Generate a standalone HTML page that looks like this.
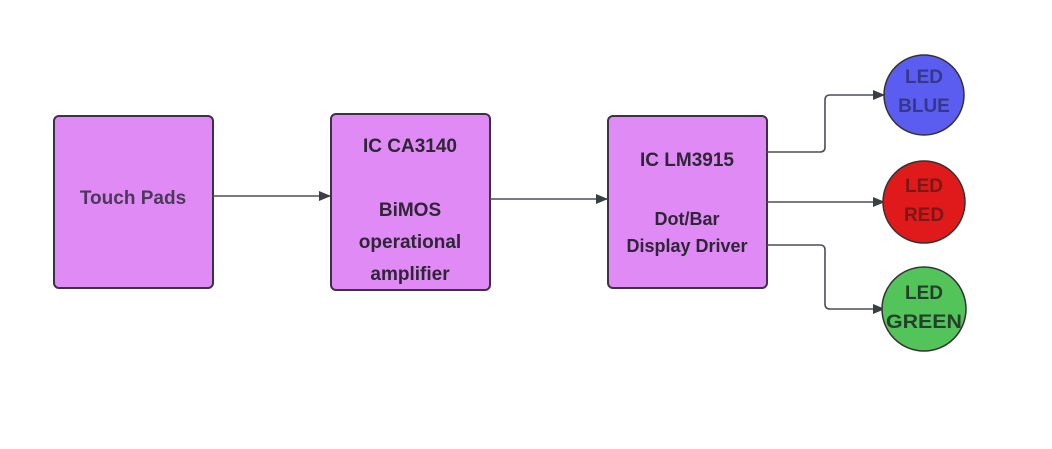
<!DOCTYPE html>
<html><head><style>
body{margin:0;background:#fff;}
svg text{font-family:"Liberation Sans",sans-serif;font-weight:bold;}
</style></head><body>
<svg width="1052" height="444" viewBox="0 0 1052 444" xmlns="http://www.w3.org/2000/svg">
<defs><marker id="a" markerWidth="12" markerHeight="12" refX="11" refY="6" orient="auto" markerUnits="userSpaceOnUse"><path d="M0,1 L12,6 L0,11 z" fill="#3a3f46"/></marker></defs>
<g fill="#e08af5" stroke="#3d3146" stroke-width="2">
<rect x="54" y="116" width="159" height="172" rx="5"/>
<rect x="331" y="114" width="159" height="176" rx="5"/>
<rect x="608" y="116" width="159" height="172" rx="5"/>
</g>
<g stroke="#4a4f56" stroke-width="1.6" fill="none" marker-end="url(#a)">
<path d="M213 196 H330"/>
<path d="M490 199 H607"/>
<path d="M767 152 H820 Q825 152 825 147 V100 Q825 95 830 95 H884"/>
<path d="M767 202 H884"/>
<path d="M767 245 H820 Q825 245 825 250 V304 Q825 309 830 309 H884"/>
</g>
<circle cx="924" cy="95" r="40" fill="#5b5cf0" stroke="#333" stroke-width="1.5"/>
<circle cx="924" cy="202" r="41" fill="#e01a1a" stroke="#333" stroke-width="1.5"/>
<circle cx="924" cy="309" r="42" fill="#52c45a" stroke="#333" stroke-width="1.5"/>
<g fill="#2e2536" font-size="19" text-anchor="middle">
<text x="133" y="204" fill="#4a3a5a">Touch Pads</text>
<text x="410" y="152">IC CA3140</text>
<text x="410" y="216">BiMOS</text>
<text x="410" y="248">operational</text>
<text x="410" y="280">amplifier</text>
<text x="687" y="166">IC LM3915</text>
<text x="687" y="225" font-size="18">Dot/Bar</text>
<text x="687" y="252" font-size="18">Display Driver</text>
</g>
<g font-size="19" text-anchor="middle">
<text x="924" y="83" fill="#35388a">LED</text>
<text x="924" y="112" fill="#35388a">BLUE</text>
<text x="924" y="192" fill="#7a1818">LED</text>
<text x="924" y="221" fill="#7a1818">RED</text>
<text x="924" y="299" fill="#24402a">LED</text>
<text x="924" y="328" fill="#24402a" textLength="76" lengthAdjust="spacingAndGlyphs">GREEN</text>
</g>
</svg>
</body></html>
